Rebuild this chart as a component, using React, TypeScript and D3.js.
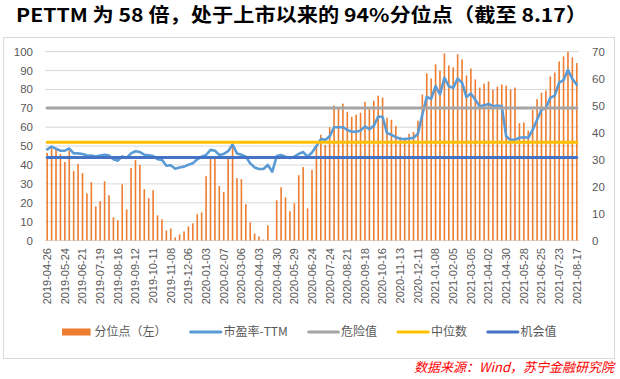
import React from "react";
import * as d3 from "d3";

const dates = [
  "2019-04-26","2019-05-03","2019-05-10","2019-05-17","2019-05-24","2019-05-31","2019-06-06","2019-06-14",
  "2019-06-21","2019-06-28","2019-07-05","2019-07-12","2019-07-19","2019-07-26","2019-08-02","2019-08-09",
  "2019-08-16","2019-08-23","2019-08-30","2019-09-06","2019-09-12","2019-09-20","2019-09-27","2019-09-30",
  "2019-10-11","2019-10-18","2019-10-25","2019-11-01","2019-11-08","2019-11-15","2019-11-22","2019-11-29",
  "2019-12-06","2019-12-13","2019-12-20","2019-12-27","2020-01-03","2020-01-10","2020-01-17","2020-01-23",
  "2020-02-07","2020-02-14","2020-02-21","2020-02-28","2020-03-06","2020-03-13","2020-03-20","2020-03-27",
  "2020-04-03","2020-04-10","2020-04-17","2020-04-24","2020-04-30","2020-05-08","2020-05-15","2020-05-22",
  "2020-05-29","2020-06-05","2020-06-12","2020-06-19","2020-06-24","2020-07-03","2020-07-10","2020-07-17",
  "2020-07-24","2020-07-31","2020-08-07","2020-08-14","2020-08-21","2020-08-28","2020-09-04","2020-09-11",
  "2020-09-18","2020-09-25","2020-09-30","2020-10-09","2020-10-16","2020-10-23","2020-10-30","2020-11-06",
  "2020-11-13","2020-11-20","2020-11-27","2020-12-04","2020-12-11","2020-12-18","2020-12-25","2020-12-31",
  "2021-01-08","2021-01-15","2021-01-22","2021-01-29","2021-02-05","2021-02-10","2021-02-19","2021-02-26",
  "2021-03-05","2021-03-12","2021-03-19","2021-03-26","2021-04-02","2021-04-09","2021-04-16","2021-04-23",
  "2021-04-30","2021-05-07","2021-05-14","2021-05-21","2021-05-28","2021-06-04","2021-06-11","2021-06-18",
  "2021-06-25","2021-07-02","2021-07-09","2021-07-16","2021-07-23","2021-07-30","2021-08-06","2021-08-13",
  "2021-08-17",
];

// 分位点（左）
const percentile = [
  46.5, 48.8, 48, 45.8, 41.6, 47.4, 36.8, 40.5, 35.7, 25, 30.9, 18.1, 20.8, 31.4, 24, 12.3,
  10.7, 29.8, 16.5, 38.4, 42.6, 40, 27.2, 22.4, 26.6, 13.3, 11.2, 5.3, 6.4, 1.6, 3.2, 4.8,
  7.5, 9.1, 13.9, 14.9, 34.1, 43.2, 43.3, 28.8, 25.6, 43.2, 49.7, 33, 32.5, 19.2, 9.6, 3.7,
  2.1, 0.5, 8, 0, 21.3, 28.2, 22.9, 15.5, 19.7, 34.6, 38.9, 17, 37.3, 50, 56, 50.6,
  60, 71.4, 69.6, 72.5, 68.2, 65.5, 66.6, 67.7, 73.5, 69.6, 74, 76.7, 75.7, 65, 64, 60.7,
  54.9, 53.3, 56.5, 57.5, 63.4, 77.3, 88.5, 85.8, 93.3, 90, 99.1, 92.7, 91.7, 98.6, 95.9, 87.4,
  91.1, 85.3, 81, 83.1, 84.2, 79.9, 81.5, 82.6, 82, 80, 81, 62.1, 62.5, 58.2, 69.2, 74.9,
  78.3, 79.4, 86.9, 89, 94.8, 97.5, 100, 97, 94,
];

// 市盈率-TTM（右）
const peTTM = [
  33.8, 34.8, 34, 33.3, 33.3, 34.1, 32.3, 32.3, 32.1, 31.6, 31.5, 31.1, 31.5, 31.8, 31.5, 30.1,
  29.6, 31.2, 30.6, 32.3, 33.1, 32.8, 31.8, 31.6, 31.3, 30.1, 29.9, 27.7, 27.9, 26.6, 27.1, 27.4,
  28.1, 28.6, 30.1, 31.1, 31.7, 33.6, 33.3, 31.7, 32.1, 33.1, 35.6, 32.3, 31.8, 31.1, 28.6, 27.1,
  26.5, 26.5, 28, 25.5, 31.3, 31.7, 31.1, 30.6, 31.1, 32.1, 32.8, 31.1, 32.6, 35, 37.6, 37.3,
  38.6, 42, 42, 42, 41, 40.3, 40.3, 40.8, 42.3, 41.3, 42.5, 46, 45.8, 39.8, 39.2, 38.3,
  37.7, 37.6, 37.8, 38.1, 39.6, 46.6, 53.2, 52.5, 57.2, 54.2, 60.3, 57.2, 56.6, 60, 58.5, 53.2,
  54.5, 52.2, 49.8, 50.1, 50.6, 49.8, 50, 49.8, 38.6, 37.3, 37.3, 38.1, 38.3, 38.1, 41, 44.8,
  48.5, 49.1, 52.9, 53.7, 58.5, 59.5, 63.2, 59.9, 57.8,
];

const dangerValue = 49.1; // 危险值
const medianValue = 36.4; // 中位数
const opportunityValue = 30.8; // 机会值

const leftTicks = [0, 10, 20, 30, 40, 50, 60, 70, 80, 90, 100];
const rightTicks = [0, 10, 20, 30, 40, 50, 60, 70];

const legendNames = ["分位点（左）", "市盈率-TTM", "危险值", "中位数", "机会值"];
const titleText = "PETTM 为 58 倍，处于上市以来的 94%分位点（截至 8.17）";
const sourceText = "数据来源：Wind，苏宁金融研究院";

const C_BAR = "#ED7D31";
const C_PE = "#5B9BD5";
const C_DANGER = "#A5A5A5";
const C_MEDIAN = "#FFC000";
const C_OPP = "#4472C4";
const C_TEXT = "#595959";

export default function App() {
  const W = 620;
  const H = 379;
  const left = 45;
  const right = 579;
  const top = 51.7;
  const bottom = 240.5;

  const idx = d3.range(dates.length);
  const x = d3.scalePoint<number>().domain(idx).range([left, right]).padding(0.5);
  const yL = d3.scaleLinear().domain([0, 100]).range([bottom, top]);
  const yR = d3.scaleLinear().domain([0, 70]).range([bottom, top]);

  const peLine = d3
    .line<number>()
    .x((d, i) => x(i) as number)
    .y((d) => yR(d))(peTTM) as string;

  const x0 = x(0) as number;
  const x1 = x(dates.length - 1) as number;
  const barW = 1.6;
  const sans = "'Liberation Sans', Arial, 'Noto Sans CJK SC', sans-serif";
  const cjk = "'Noto Sans CJK SC', 'Liberation Sans', sans-serif";

  const hLines = [
    { v: dangerValue, c: C_DANGER },
    { v: medianValue, c: C_MEDIAN },
    { v: opportunityValue, c: C_OPP },
  ];

  const legendItems = [
    { name: legendNames[0], c: C_BAR, kind: "rect", sx: 62, ex: 90.6, tx: 94.6 },
    { name: legendNames[1], c: C_PE, kind: "line", sx: 190.6, ex: 220.9, tx: 223.5 },
    { name: legendNames[2], c: C_DANGER, kind: "line", sx: 308.7, ex: 338.3, tx: 341 },
    { name: legendNames[3], c: C_MEDIAN, kind: "line", sx: 398, ex: 428.3, tx: 431 },
    { name: legendNames[4], c: C_OPP, kind: "line", sx: 487.8, ex: 517.9, tx: 520.5 },
  ];
  const legY = 332;

  return (
    <svg
      width={W}
      height={H}
      style={{ position: "absolute", left: 0, top: 0, background: "#fff" }}
    >
      <rect x={0} y={0} width={W} height={H} fill="#fff" />
      <text
        x={16}
        y={22}
        fontFamily={cjk}
        fontWeight={700}
        fontSize={19}
        fill="#000"
        textLength={571}
        lengthAdjust="spacingAndGlyphs"
      >
        {titleText}
      </text>
      <rect x={3.5} y={37.5} width={611} height={321} fill="none" stroke="#D9D9D9" strokeWidth={1} />

      {leftTicks.map((t) => (
        <line key={"g" + t} x1={left} x2={right} y1={yL(t)} y2={yL(t)} stroke="#D9D9D9" strokeWidth={1} />
      ))}

      {leftTicks.map((t) => (
        <text
          key={"l" + t}
          x={33}
          y={yL(t)}
          dy="0.35em"
          textAnchor="end"
          fontFamily={sans}
          fontSize={11.5}
          fill={C_TEXT}
        >
          {t}
        </text>
      ))}
      {rightTicks.map((t) => (
        <text
          key={"r" + t}
          x={592}
          y={yR(t)}
          dy="0.35em"
          textAnchor="start"
          fontFamily={sans}
          fontSize={11.5}
          fill={C_TEXT}
        >
          {t}
        </text>
      ))}

      {percentile.map((v, i) => (
        <rect
          key={"b" + i}
          x={(x(i) as number) - barW / 2}
          y={yL(v)}
          width={barW}
          height={bottom - yL(v)}
          fill={C_BAR}
        />
      ))}

      <path d={peLine} fill="none" stroke={C_PE} strokeWidth={2.6} strokeLinejoin="round" strokeLinecap="round" />

      {hLines.map((h) => (
        <line
          key={h.c}
          x1={x0}
          x2={x1}
          y1={yR(h.v)}
          y2={yR(h.v)}
          stroke={h.c}
          strokeWidth={3}
          strokeLinecap="round"
        />
      ))}

      {dates.map((d, i) =>
        i % 4 === 0 ? (
          <text
            key={"x" + i}
            transform={`translate(${x(i)},248) rotate(-90)`}
            dy="0.35em"
            textAnchor="end"
            fontFamily={sans}
            fontSize={11}
            fill={C_TEXT}
          >
            {d}
          </text>
        ) : null
      )}

      {legendItems.map((it) => (
        <g key={it.name}>
          {it.kind === "rect" ? (
            <rect x={it.sx} y={legY - 3.5} width={it.ex - it.sx} height={7} fill={it.c} />
          ) : (
            <line x1={it.sx} x2={it.ex} y1={legY} y2={legY} stroke={it.c} strokeWidth={3} strokeLinecap="round" />
          )}
          <text x={it.tx} y={legY} dy="0.35em" fontFamily={cjk} fontSize={12} fill={C_TEXT}>
            {it.name}
          </text>
        </g>
      ))}

      <text
        x={614}
        y={372}
        textAnchor="end"
        fontFamily={cjk}
        fontStyle="italic"
        fontSize={13}
        fill="#FF0000"
      >
        {sourceText}
      </text>
    </svg>
  );
}
